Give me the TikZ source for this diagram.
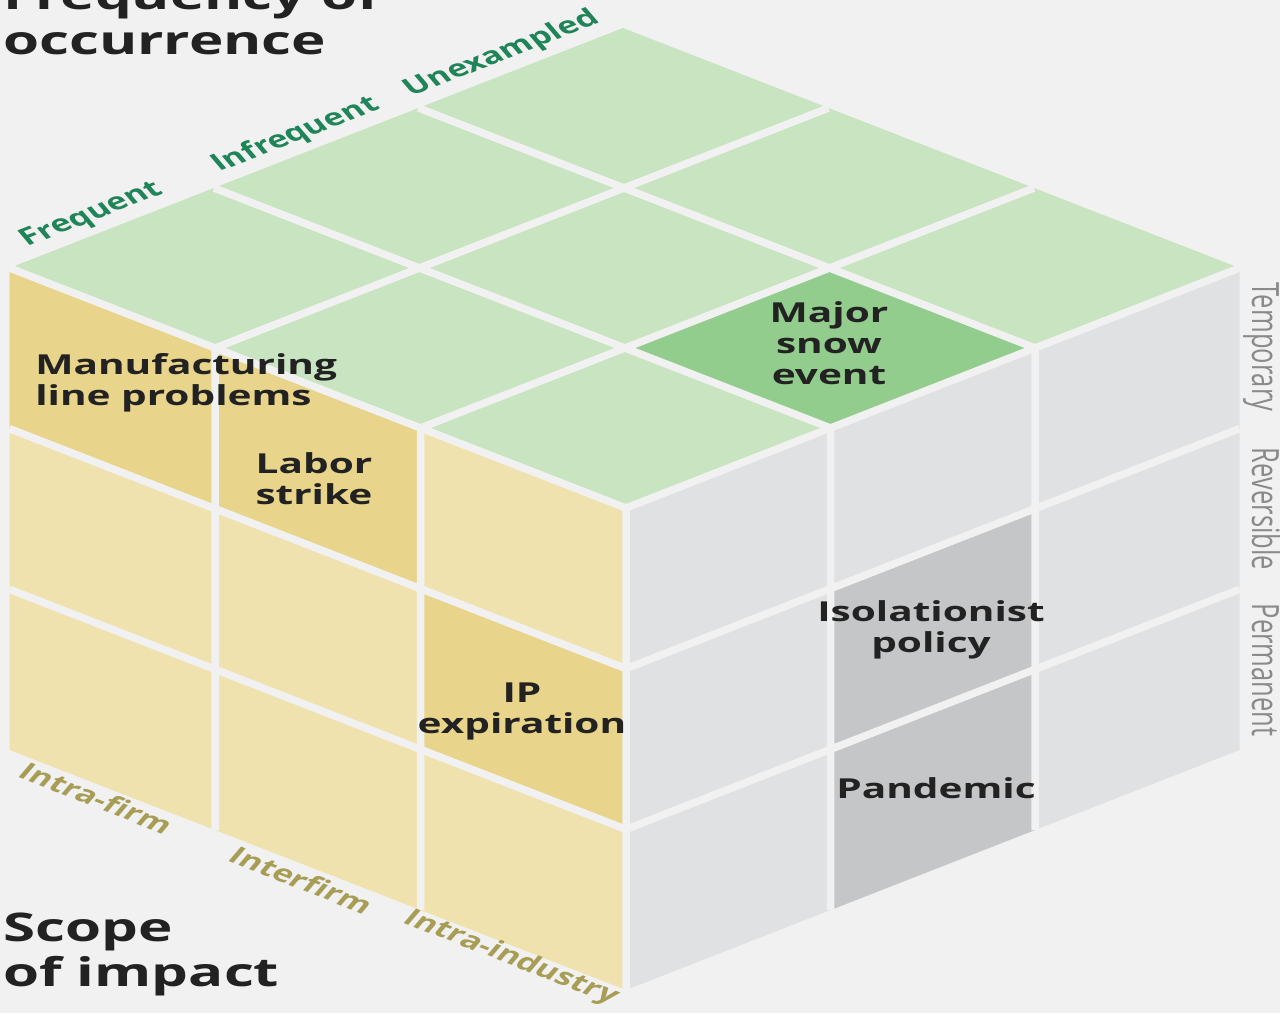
\documentclass[tikz,border=0pt]{standalone}
\usepackage{fontspec}
\setmainfont{Open Sans}
\definecolor{bg}{HTML}{F1F1F1}
\definecolor{topg}{HTML}{C8E4C0}
\definecolor{topgd}{HTML}{93CD8D}
\definecolor{lefty}{HTML}{F0E2AE}
\definecolor{leftyd}{HTML}{E8D48B}
\definecolor{rightg}{HTML}{E0E1E3}
\definecolor{rightgd}{HTML}{C5C6C8}
\definecolor{ink}{HTML}{222222}
\definecolor{freqc}{HTML}{1F8558}
\definecolor{scopec}{HTML}{A89D55}
\definecolor{permc}{HTML}{8A8A8A}
\begin{document}
\begin{tikzpicture}[x=1pt,y=-1pt,
  gap/.style={draw=bg, line width=7.5pt},
  stretch/.style={xscale=1.475, transform shape, inner sep=0pt},
  celltext/.style={stretch, font=\bfseries\fontsize{27.5}{31}\selectfont, text=ink, align=center},
  titletext/.style={stretch, font=\bfseries\fontsize{39.5}{45}\selectfont, text=ink, align=left},
  freqlab/.style={stretch, rotate=30, font=\bfseries\fontsize{23.5}{26}\selectfont, text=freqc},
  scopelab/.style={stretch, rotate=-30, font=\bfseries\fontsize{23.5}{26}\selectfont, text=scopec},
  permlab/.style={stretch, rotate=-90, font=\fontsize{25.5}{28}\selectfont, text=permc}]
\useasboundingbox (0,0) rectangle (1280,1013);
\fill[bg] (0,0) rectangle (1280,1013);
\clip (0,0) rectangle (1280,1013);
% grid points of the three faces
\foreach \i in {0,...,3}{\foreach \j in {0,...,3}{
  \coordinate (T\i\j) at ({626-205.5*\i+204.5*\j},{508-80*\i-80*\j});
  \coordinate (L\i\j) at ({626-205.5*\i},{508-80*\i+160.67*\j});
  \coordinate (R\i\j) at ({626+204.5*\i},{508-80*\i+160.67*\j});
}}
% faces
\fill[topg] (T00) -- (T30) -- (T33) -- (T03) -- cycle;
\fill[lefty] (L00) -- (L30) -- (L33) -- (L03) -- cycle;
\fill[rightg] (R00) -- (R30) -- (R33) -- (R03) -- cycle;
% highlighted cells
\fill[topgd] (T01) -- (T11) -- (T12) -- (T02) -- cycle;
\fill[leftyd] (L20) -- (L30) -- (L31) -- (L21) -- cycle;
\fill[leftyd] (L10) -- (L20) -- (L21) -- (L11) -- cycle;
\fill[leftyd] (L01) -- (L11) -- (L12) -- (L02) -- cycle;
\fill[rightgd] (R11) -- (R21) -- (R23) -- (R13) -- cycle;
% gaps between cells
\draw[gap] (T00) -- (T03) (T10) -- (T13) (T20) -- (T23)
           (T00) -- (T30) (T01) -- (T31) (T02) -- (T32);
\draw[gap] (L00) -- (L03) (L10) -- (L13) (L20) -- (L23)
           (L01) -- (L31) (L02) -- (L32);
\draw[gap] (R10) -- (R13) (R20) -- (R23)
           (R01) -- (R31) (R02) -- (R32);
% cell texts
\node[celltext, anchor=west, align=left] (mfg) at (35,383) {Manufacturing\\line problems};
\node[celltext] (labor) at (314,479) {Labor\\strike};
\node[celltext] (snow) at (829,343) {Major\\snow\\event};
\node[celltext] (ip) at (522,711) {IP\\expiration};
\node[celltext] (iso) at (931,630) {Isolationist\\policy};
\node[celltext] (pand) at (936,788) {Pandemic};
% titles
\node[titletext, anchor=west] (freqtitle) at (3,17) {Frequency of\\occurrence};
\node[titletext, anchor=west] (scopetitle) at (3,954) {Scope\\of impact};
% axis labels
\node[freqlab] (fq1) at (92,215) {Frequent};
\node[freqlab] (fq2) at (296,135) {Infrequent};
\node[freqlab] (fq3) at (502,54) {Unexampled};
\node[scopelab] (sc1) at (97,798) {Intra-firm};
\node[scopelab] (sc2) at (302,880) {Interfirm};
\node[scopelab] (sc3) at (511,958) {Intra-industry};
\node[permlab, anchor=base] (pm1) at (1252,347) {Temporary};
\node[permlab, anchor=base] (pm2) at (1252,509) {Reversible};
\node[permlab, anchor=base] (pm3) at (1252,670) {Permanent};
\end{tikzpicture}
\end{document}
